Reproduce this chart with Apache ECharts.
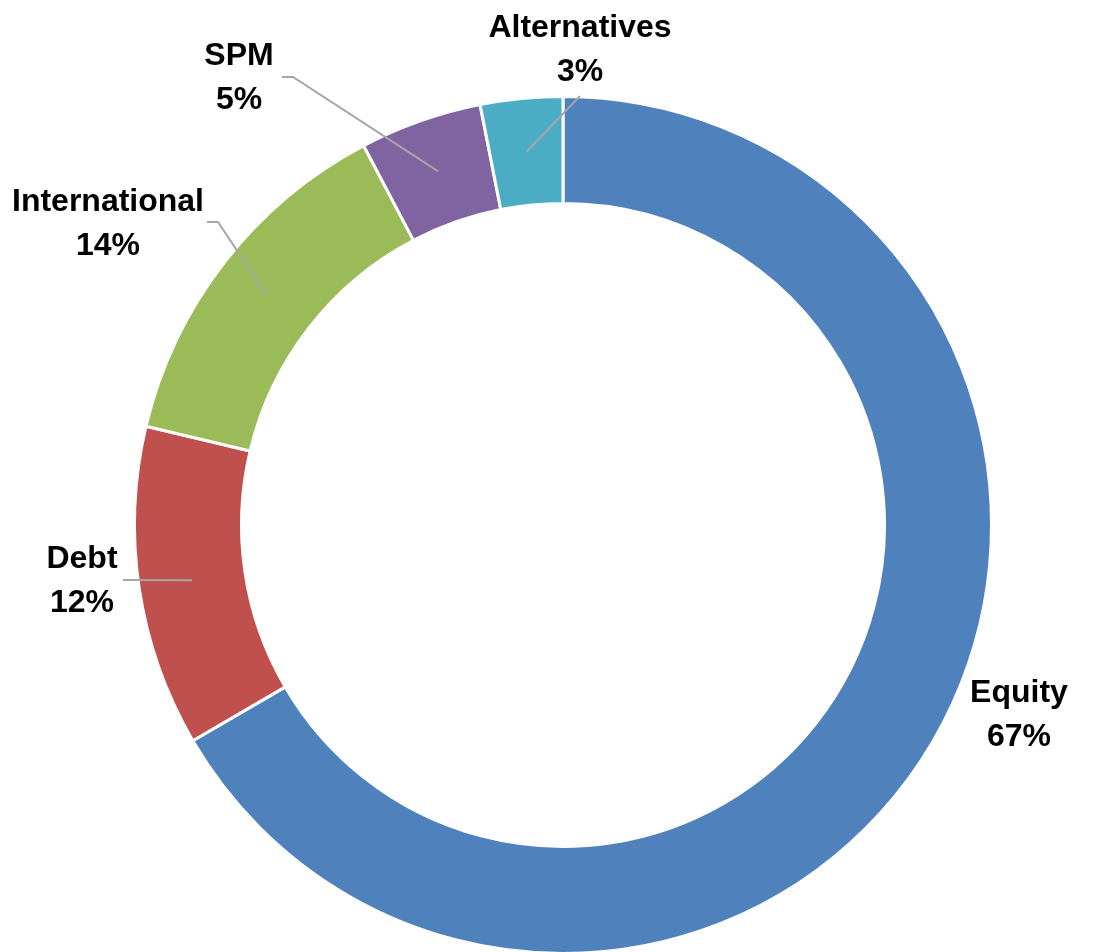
<!DOCTYPE html>
<html><head><meta charset="utf-8">
<script src="https://cdn.jsdelivr.net/npm/echarts@6/dist/echarts.min.js"></script>
<style>html,body{margin:0;padding:0;background:#fff}#chart{width:1094px;height:952px}</style>
</head><body><div id="chart"></div>
<script>
// ---- data ----
const categories = ['Equity', 'Debt', 'International', 'SPM', 'Alternatives'];
const shares = [66.6, 12.1, 13.6, 4.6, 3.1];

// ---- styles / layout ----
const colors = ['#4F81BD', '#C0504D', '#9BBB59', '#8064A2', '#4BACC6'];
const CENTER = [563, 525];
const labelAnchor = {
  Equity: [1019, 715], Debt: [82, 581], International: [108, 224],
  SPM: [239, 78], Alternatives: [580, 50]
};
const leaderTail = {
  Equity: null, Debt: [[123, 580]], International: [[218, 222], [207, 222]],
  SPM: [[293, 77], [282, 77]], Alternatives: [[580, 96]]
};
const FONT = "'Liberation Sans Narrow', 'Arial Narrow', 'Liberation Sans', Arial, sans-serif";

const chart = echarts.init(document.getElementById('chart'), null, { renderer: 'canvas' });

const mainData = categories.map((c, i) => ({ name: c, value: shares[i], itemStyle: { color: colors[i] } }));
const labelData = categories.map((c, i) => ({
  name: c, value: shares[i],
  labelLine: { show: leaderTail[c] != null }
}));

chart.setOption({
  backgroundColor: '#fff',
  animation: false,
  series: [
    {
      type: 'pie',
      center: CENTER,
      radius: [321.5, 428.5],
      startAngle: 90,
      clockwise: true,
      avoidLabelOverlap: false,
      silent: true,
      label: { show: false },
      labelLine: { show: false },
      itemStyle: { borderColor: '#ffffff', borderWidth: 3 },
      data: mainData
    },
    {
      type: 'pie',
      center: CENTER,
      radius: [0, 375],
      startAngle: 90,
      clockwise: true,
      avoidLabelOverlap: false,
      silent: true,
      z: 3,
      itemStyle: { color: 'rgba(0,0,0,0)' },
      label: {
        show: true,
        position: 'outside',
        color: '#000',
        fontFamily: FONT,
        fontWeight: 'bold',
        fontSize: 32,
        lineHeight: 44,
        align: 'center',
        formatter: p => p.name + '\n' + Math.round(p.percent) + '%'
      },
      labelLine: {
        show: true,
        length: 20, length2: 10,
        lineStyle: { color: '#A6A6A6', width: 2 }
      },
      labelLayout: params => {
        const name = categories[params.dataIndex];
        const a = labelAnchor[name];
        const res = { x: a[0], y: a[1], align: 'center', verticalAlign: 'middle' };
        const tail = leaderTail[name];
        if (tail && params.labelLinePoints && params.labelLinePoints.length) {
          res.labelLinePoints = [params.labelLinePoints[0]].concat(tail);
        }
        return res;
      },
      data: labelData
    }
  ]
});
</script>
</body></html>
